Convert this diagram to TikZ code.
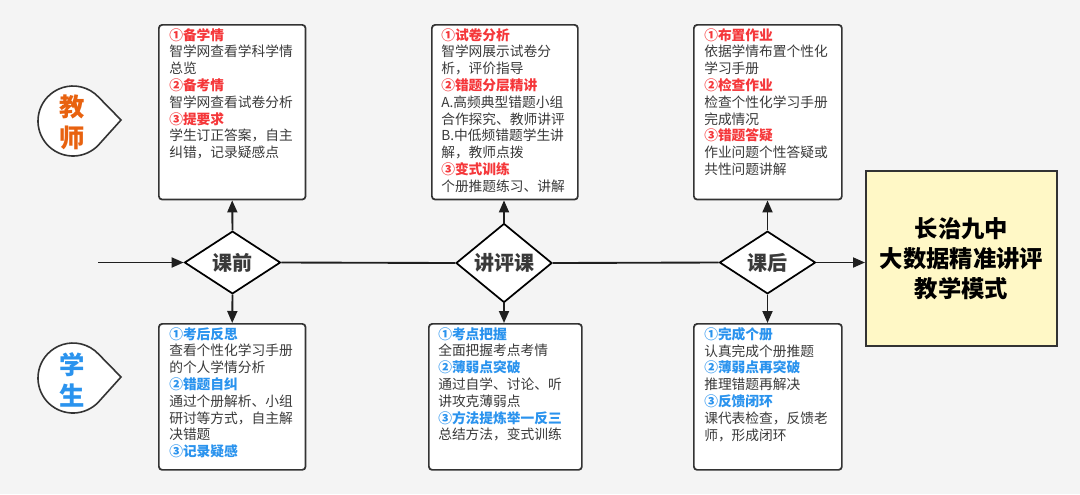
\documentclass[tikz,border=0pt]{standalone}
\usepackage{fontspec}
\setmainfont{Noto Sans CJK SC}
\usetikzlibrary{arrows.meta,shapes.geometric,calc}
\definecolor{bg}{HTML}{F4F4F4}
\definecolor{tred}{HTML}{F5373A}
\definecolor{sblue}{HTML}{2A93EE}
\definecolor{body}{HTML}{3A3A3A}
\definecolor{edge}{HTML}{333333}
\definecolor{torange}{HTML}{E8620F}
\definecolor{yfill}{HTML}{FFF8C6}
\tikzset{
  infobox/.style={draw=edge, line width=1.3pt, rounded corners=2.5pt, fill=white},
  infotext/.style={anchor=north west, inner sep=0pt, align=left, text=body,
    font=\fontsize{10.3pt}{12.6pt}\selectfont},
  decide/.style={diamond, draw=black, line width=1.3pt, fill=white, inner sep=0pt,
    minimum width=72pt, minimum height=47pt, text=body, font=\bfseries\fontsize{15pt}{18pt}\selectfont},
  flow/.style={draw=black!88, line width=1.4pt},
  flowarr/.style={flow, -{Triangle[length=9pt,width=7.5pt]}},
  drop/.style={draw=edge, line width=1.2pt, fill=white},
}
\newcommand{\hr}[1]{{\color{tred}\bfseries #1}}
\newcommand{\hb}[1]{{\color{sblue}\bfseries #1}}
\begin{document}
\begin{tikzpicture}[x=0.75pt,y=-0.75pt]
\useasboundingbox (0,0) rectangle (1080,494);
\fill[bg] (0,0) rectangle (1080,494);

% teardrops
\draw[drop] (121,120) -- ($(73,121)+(43:35)$) arc[start angle=43,end angle=317,radius=35] -- cycle;
\node[inner sep=0pt, align=center, text=torange, font=\bfseries\fontsize{19pt}{23.5pt}\selectfont] (tlabel) at (72,122) {教\\师};
\draw[drop] (121,377) -- ($(73,378)+(43:35)$) arc[start angle=43,end angle=317,radius=35] -- cycle;
\node[inner sep=0pt, align=center, text=sblue, font=\bfseries\fontsize{19pt}{23.5pt}\selectfont] (slabel) at (72,380) {学\\生};

% boxes
\node[infobox, anchor=north west, minimum width=110pt, minimum height=131pt] (t1) at (158,24) {};
\node[infobox, anchor=north west, minimum width=110pt, minimum height=109.5pt] (s1) at (158,323) {};
\node[infobox, anchor=north west, minimum width=109.5pt, minimum height=131pt] (t2) at (431,24) {};
\node[infobox, anchor=north west, minimum width=114.75pt, minimum height=109.5pt] (s2) at (428,323) {};
\node[infobox, anchor=north west, minimum width=111pt, minimum height=131pt] (t3) at (693,24) {};
\node[infobox, anchor=north west, minimum width=111pt, minimum height=109.5pt] (s3) at (693,323) {};

\node[infotext] (t1text) at (169,28) {\hr{①备学情}\\智学网查看学科学情\\总览\\\hr{②备考情}\\智学网查看试卷分析\\\hr{③提要求}\\学生订正答案，自主\\纠错，记录疑感点};
\node[infotext] (s1text) at (169,327) {\hb{①考后反思}\\查看个性化学习手册\\的个人学情分析\\\hb{②错题自纠}\\通过个册解析、小组\\研讨等方式，自主解\\决错题\\\hb{③记录疑感}};
\node[infotext] (t2text) at (441,28) {\hr{①试卷分析}\\智学网展示试卷分\\析，评价指导\\\hr{②错题分层精讲}\\A.高频典型错题小组\\合作探究、教师讲评\\B.中低频错题学生讲\\解，教师点拨\\\hr{③变式训练}\\个册推题练习、讲解};
\node[infotext] (s2text) at (438,327) {\hb{①考点把握}\\全面把握考点考情\\\hb{②薄弱点突破}\\通过自学、讨论、听\\讲攻克薄弱点\\\hb{③方法提炼举一反三}\\总结方法，变式训练};
\node[infotext] (t3text) at (704,28) {\hr{①布置作业}\\依据学情布置个性化\\学习手册\\\hr{②检查作业}\\检查个性化学习手册\\完成情况\\\hr{③错题答疑}\\作业问题个性答疑或\\共性问题讲解};
\node[infotext] (s3text) at (704,327) {\hb{①完成个册}\\认真完成个册推题\\\hb{②薄弱点再突破}\\推理错题再解决\\\hb{③反馈闭环}\\课代表检查，反馈老\\师，形成闭环};

% decisions
\node[decide] (d1) at (232.5,262.5) {课前};
\node[decide] (d2) at (504,263) {讲评课};
\node[decide] (d3) at (767.5,262.5) {课后};

% result
\node[draw=edge, line width=1.3pt, fill=yfill, anchor=north west, minimum width=143.25pt, minimum height=131.25pt,
  align=center, inner sep=0pt, font=\bfseries\fontsize{17.5pt}{22.5pt}\selectfont, text=black] (res) at (865,170) {长治九中\\大数据精准讲评\\教学模式};

% connectors
\coordinate (start) at (98,262.5);
\draw[flowarr] (start) -- (d1.west);
\draw[flow] (d1.east) -- (d2.west);
\draw[flow] (d2.east) -- (d3.west);
\draw[flowarr] (d3.east) -- (d3.east -| res.west);
\draw[flowarr] (d1.north) -- (t1.south);
\draw[flowarr] (d1.south) -- (s1.north);
\draw[flowarr] (d2.north) -- (d2.north |- t2.south);
\draw[flowarr] (d2.south) -- (d2.south |- s2.north);
\draw[flowarr] (d3.north) -- (d3.north |- t3.south);
\draw[flowarr] (d3.south) -- (d3.south |- s3.north);
\end{tikzpicture}
\end{document}
